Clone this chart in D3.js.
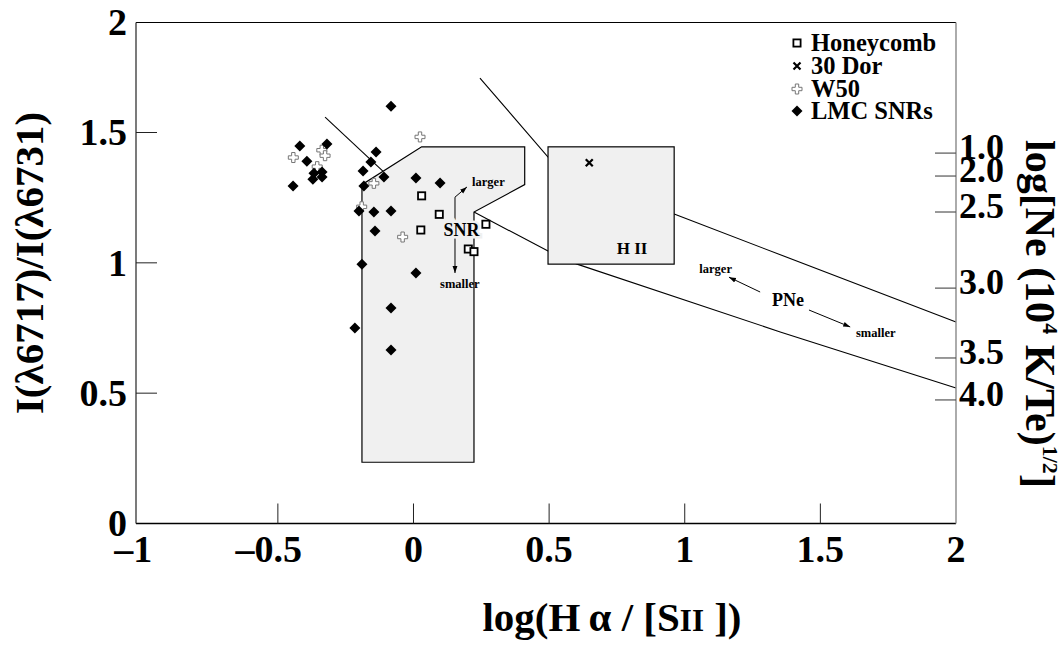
<!DOCTYPE html>
<html><head><meta charset="utf-8">
<script src="https://cdn.jsdelivr.net/npm/d3@7"></script>
<style>
html,body{margin:0;padding:0;background:#fff;}
svg text{font-family:"Liberation Serif","Times New Roman",serif;font-weight:bold;fill:#000;}
</style></head>
<body>
<svg id="chart" width="1063" height="646"></svg>
<script>
// ---- data (log(Ha/[SII]), I(6717)/I(6731)) ----
const lmcX = [-0.083,-0.419,-0.319,-0.393,-0.138,-0.157,-0.186,-0.109,-0.367,-0.337,-0.371,-0.337,-0.444,-0.183,0.009,0.098,-0.201,-0.146,-0.083,-0.142,-0.190,0.009,-0.083,-0.216,-0.083];
const lmcY = [1.601,1.448,1.456,1.390,1.425,1.387,1.352,1.329,1.344,1.348,1.321,1.329,1.295,1.295,1.325,1.306,1.199,1.195,1.199,1.122,0.995,0.961,0.827,0.750,0.666];
const honeyX = [0.030,0.095,0.027,0.267,0.202,0.223];
const honeyY = [1.257,1.186,1.126,1.148,1.053,1.043];
const w50X = [0.024,-0.443,-0.338,-0.326,-0.355,-0.146,-0.191,-0.040];
const w50Y = [1.483,1.404,1.432,1.411,1.369,1.305,1.215,1.099];
const dorX = [0.648];
const dorY = [1.384];

// regions
const snrPolyX = [-0.19,-0.19,0.03,0.41,0.41,0.223,0.223];
const snrPolyY = [0.235,1.30,1.445,1.445,1.30,1.195,0.235];
const hiiBoxX = [0.496,0.961];
const hiiBoxY = [0.995,1.445];
const pnUpperX = [0.245,0.496,0.961,2.0];
const pnUpperY = [1.709,1.406,1.187,0.773];
const pnLowerX = [0.223,0.496,0.603,1.352,2.0];
const pnLowerY = [1.195,1.045,0.995,0.735,0.520];
const leftLineX = [-0.326,-0.109];
const leftLineY = [1.559,1.348];

// axes
const xTickVals = [-0.5,0,0.5,1,1.5];
const xLabelVals = [-1,-0.5,0,0.5,1,1.5,2];
const xLabels = ["\u20131","\u20130.5","0","0.5","1","1.5","2"];
const yTickVals = [0.5,1,1.5];
const yLabelVals = [0,0.5,1,1.5,2];
const yLabels = ["0","0.5","1","1.5","2"];
const neTickVals = [1.421,1.333,1.195,0.903,0.635,0.474];
const neLabels = ["1.0","2.0","2.5","3.0","3.5","4.0"];
const legendNames = ["Honeycomb","30 Dor","W50","LMC SNRs"];

const svg = d3.select("#chart");
const x = d3.scaleLinear().domain([-1.023, 2.0]).range([136, 956]);
const y = d3.scaleLinear().domain([0, 1.922]).range([523.5, 22.5]);
const yc = y.copy().clamp(true);

const defs = svg.append("defs");
defs.append("marker").attr("id","arr").attr("viewBox","0 0 10 10").attr("refX",10).attr("refY",5)
  .attr("markerWidth",7).attr("markerHeight",7).attr("markerUnits","userSpaceOnUse").attr("orient","auto-start-reverse")
  .append("path").attr("d","M0,1.5 L10,5 L0,8.5 Z").attr("fill","#000");

const line = d3.line().x(d=>x(d[0])).y(d=>y(d[1]));
const zip = (a,b)=>a.map((v,i)=>[v,b[i]]);

// PN boundary curves (drawn under boxes)
svg.append("path").attr("d", line(zip(pnUpperX,pnUpperY))).attr("fill","none").attr("stroke","#000").attr("stroke-width",1.1);
svg.append("path").attr("d", line(zip(pnLowerX,pnLowerY))).attr("fill","none").attr("stroke","#000").attr("stroke-width",1.1);
svg.append("path").attr("d", line(zip(leftLineX,leftLineY))).attr("fill","none").attr("stroke","#000").attr("stroke-width",1.1);

// SNR polygon
svg.append("path").attr("d", line(zip(snrPolyX,snrPolyY))+"Z").attr("fill","#f0f0f0").attr("stroke","#000").attr("stroke-width",1.2);
// HII box
svg.append("rect").attr("x",x(hiiBoxX[0])).attr("y",y(hiiBoxY[1]))
  .attr("width",x(hiiBoxX[1])-x(hiiBoxX[0])).attr("height",y(hiiBoxY[0])-y(hiiBoxY[1]))
  .attr("fill","#f0f0f0").attr("stroke","#000").attr("stroke-width",1.2);

// annotation arrows
const snrArrow = [[0.197,1.291],[0.153,1.252],[0.153,0.961]];
svg.append("path").attr("d", line(snrArrow)).attr("fill","none").attr("stroke","#000").attr("stroke-width",1)
  .attr("marker-start","url(#arr)").attr("marker-end","url(#arr)");
const pnArrows = [[[1.278,0.888],[1.163,0.945]],[[1.458,0.819],[1.610,0.754]]];
pnArrows.forEach(a=>svg.append("path").attr("d", line(a)).attr("fill","none").attr("stroke","#000").attr("stroke-width",1).attr("marker-end","url(#arr)"));

// annotation labels
const annText = ["SNR","larger","smaller","H II","PNe","larger","smaller"];
const annX = [0.177,0.216,0.171,0.806,1.381,1.114,1.704];
const annY = [1.103,1.295,0.903,1.034,0.834,0.961,0.715];
const annSize = [18,12.5,12.5,17,18,12.5,12.5];
const annAnchor = ["middle","start","middle","middle","middle","middle","middle"];
annText.forEach((t,i)=>{
  const tx = svg.append("text").attr("x",x(annX[i])).attr("y",y(annY[i])).attr("font-size",annSize[i])
    .attr("text-anchor",annAnchor[i]).text(t);
  if(i===0) tx.attr("stroke","#f0f0f0").attr("stroke-width",5).attr("paint-order","stroke");
});

// frame
svg.append("line").attr("x1",x.range()[0]).attr("x2",x.range()[1]).attr("y1",y.range()[1]).attr("y2",y.range()[1]).attr("stroke","#000").attr("stroke-width",1.2);
svg.append("line").attr("x1",x.range()[0]).attr("x2",x.range()[1]).attr("y1",y.range()[0]).attr("y2",y.range()[0]).attr("stroke","#000").attr("stroke-width",1.3);
svg.append("line").attr("x1",x.range()[0]).attr("x2",x.range()[0]).attr("y1",y.range()[0]).attr("y2",y.range()[1]).attr("stroke","#222").attr("stroke-width",1.2);
svg.append("line").attr("x1",x.range()[1]).attr("x2",x.range()[1]).attr("y1",y.range()[0]).attr("y2",y.range()[1]).attr("stroke","#888").attr("stroke-width",1.4);

// ticks
svg.selectAll(".xt").data(xTickVals).join("line").attr("x1",d=>x(d)).attr("x2",d=>x(d))
  .attr("y1",y.range()[0]).attr("y2",y.range()[0]-20).attr("stroke","#222").attr("stroke-width",1);
svg.selectAll(".yt").data(yTickVals).join("line").attr("x1",x.range()[0]).attr("x2",x.range()[0]+21)
  .attr("y1",d=>y(d)).attr("y2",d=>y(d)).attr("stroke","#222").attr("stroke-width",1);
svg.selectAll(".nt").data(neTickVals).join("line").attr("x1",x.range()[1]-21).attr("x2",x.range()[1])
  .attr("y1",d=>y(d)).attr("y2",d=>y(d)).attr("stroke","#555").attr("stroke-width",1.2);

// tick labels
svg.selectAll(".xl").data(xLabelVals).join("text").attr("x",d=>x(d)-(d<0?9:0)).attr("y",562)
  .attr("text-anchor","middle").attr("font-size",38).text((d,i)=>xLabels[i]);
svg.selectAll(".yl").data(yLabelVals).join("text").attr("x",127).attr("y",d=>yc(d)).attr("dy","0.34em")
  .attr("text-anchor","end").attr("font-size",38).text((d,i)=>yLabels[i]);
svg.selectAll(".nl").data(neTickVals).join("text").attr("x",959).attr("y",d=>y(d)-6).attr("dy","0.34em")
  .attr("text-anchor","start").attr("font-size",36).text((d,i)=>neLabels[i]);

// axis titles
const xt = svg.append("text").attr("x",612).attr("y",631).attr("text-anchor","middle").attr("font-size",41);
xt.append("tspan").text("log(H\u2009\u03b1 / [S");
xt.append("tspan").attr("font-size",31).text("II");
xt.append("tspan").text(" ])");
svg.append("text").attr("transform","translate(43,263) rotate(-90)").attr("text-anchor","middle").attr("font-size",41)
  .text("I(\u03bb6717)/I(\u03bb6731)");
const rt = svg.append("text").attr("transform","translate(1026,140) rotate(90)").attr("text-anchor","start").attr("font-size",42);
rt.append("tspan").text("log[Ne (10");
rt.append("tspan").attr("font-size",22).attr("dy",-17).text("4");
rt.append("tspan").attr("dy",17).text(" K/Te)");
rt.append("tspan").attr("font-size",22).attr("dy",-17).text("1/2");
rt.append("tspan").attr("dy",17).text("]");

// markers
const diamond = "M0,-5.5L5.5,0L0,5.5L-5.5,0Z";
const a=1.7,b=5;
const plus = `M${-a},${-b}H${a}V${-a}H${b}V${a}H${a}V${b}H${-a}V${a}H${-b}V${-a}H${-a}Z`;
function drawSquare(g){ g.append("rect").attr("x",-3.6).attr("y",-3.6).attr("width",7.2).attr("height",7.2).attr("fill","#fff").attr("stroke","#000").attr("stroke-width",1.8); }
function drawX(g){ g.append("path").attr("d","M-3.5,-3.5L3.5,3.5M-3.5,3.5L3.5,-3.5").attr("stroke","#000").attr("stroke-width",2.2); }
function drawPlus(g){ g.append("path").attr("d",plus).attr("fill","#fff").attr("stroke","#777").attr("stroke-width",1); }
function drawDiamond(g){ g.append("path").attr("d",diamond).attr("fill","#000"); }

zip(w50X,w50Y).forEach(p=>drawPlus(svg.append("g").attr("transform",`translate(${x(p[0])},${y(p[1])})`)));
zip(lmcX,lmcY).forEach(p=>drawDiamond(svg.append("g").attr("transform",`translate(${x(p[0])},${y(p[1])})`)));
zip(honeyX,honeyY).forEach(p=>drawSquare(svg.append("g").attr("transform",`translate(${x(p[0])},${y(p[1])})`)));
zip(dorX,dorY).forEach(p=>drawX(svg.append("g").attr("transform",`translate(${x(p[0])},${y(p[1])})`)));

// legend
const drawers = [drawSquare,drawX,drawPlus,drawDiamond];
const legY = [43,66,89,111];
legendNames.forEach((n,i)=>{
  const g = svg.append("g").attr("transform",`translate(797,${legY[i]})`);
  drawers[i](g);
  g.append("text").attr("x",14).attr("dy","0.34em").attr("font-size",24.5).text(n);
});
</script>
</body></html>
